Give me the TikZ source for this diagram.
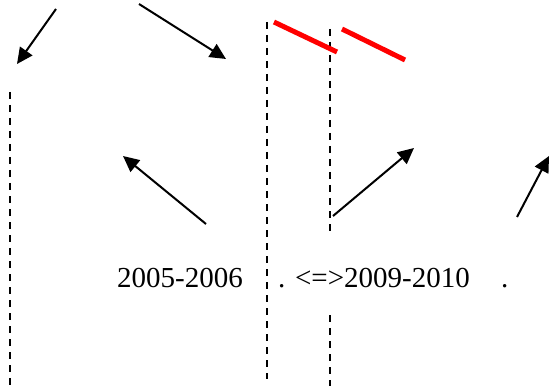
\documentclass[tikz,border=0pt]{standalone}
\usepackage{fontspec}
\setmainfont{Liberation Serif}
\usetikzlibrary{arrows.meta, positioning}
\tikzstyle{divider} = [draw, line width=2pt, dash pattern=on 7pt off 6pt]
\tikzstyle{redbar} = [draw=red, line width=5pt]
\tikzstyle{trend} = [draw, line width=2pt, -{Triangle[length=16pt,width=15pt]}]
\tikzstyle{years} = [inner sep=0pt, anchor=base west, font=\fontsize{29}{34}\selectfont]

\begin{document}
\begin{tikzpicture}[x=1pt,y=-1pt]
  \useasboundingbox (0,0) rectangle (551,390);
  % dividers
  \coordinate (leftTop) at (10,92);
  \coordinate (leftBot) at (10,390);
  \coordinate (midTop) at (267,22);
  \coordinate (midBot) at (267,379);
  \coordinate (rightTop) at (330,29);
  \coordinate (rightCut) at (330,232);
  \coordinate (rightLow) at (330,315);
  \coordinate (rightBot) at (330,386);
  \draw[divider] (leftTop) -- (leftBot);
  \draw[divider] (midTop) -- (midBot);
  \draw[divider] (rightTop) -- (rightCut);
  \draw[divider] (rightLow) -- (rightBot);
  % red bars
  \coordinate (barAs) at (274,22);
  \coordinate (barAe) at (337,52);
  \coordinate (barBs) at (342,29);
  \coordinate (barBe) at (405,60);
  \draw[redbar] (barAs) -- (barAe);
  \draw[redbar] (barBs) -- (barBe);
  % labels
  \node[years] (first) at (117,287) {2005-2006};
  \node[years] (second) at (278,287) {. <=>2009-2010};
  \node[years] (dot) at (501,287) {.};
  % arrows
  \coordinate (downS) at (56,9);
  \coordinate (downE) at (17,64);
  \coordinate (rightS) at (139,4);
  \coordinate (rightE) at (226,59);
  \coordinate (backS) at (206,224);
  \coordinate (backE) at (123,156);
  \coordinate (upS) at (333,216);
  \coordinate (upE) at (414,148);
  \coordinate (steepS) at (517,217);
  \coordinate (steepE) at (549,156);
  \draw[trend] (downS) -- (downE);
  \draw[trend] (rightS) -- (rightE);
  \draw[trend] (backS) -- (backE);
  \draw[trend] (upS) -- (upE);
  \draw[trend] (steepS) -- (steepE);
\end{tikzpicture}
\end{document}
